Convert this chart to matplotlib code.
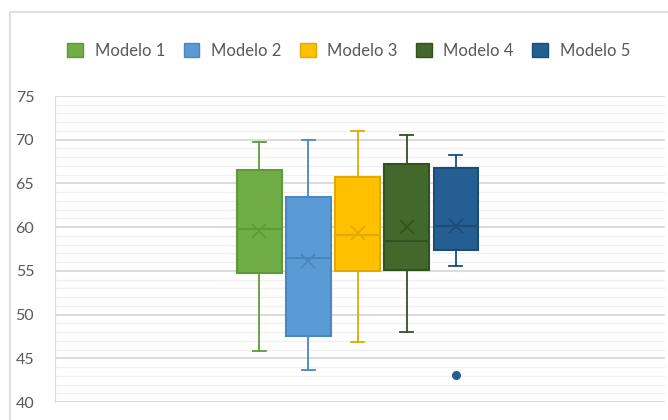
import matplotlib.pyplot as plt
from matplotlib.patches import Patch, Rectangle

# valores (resumen de cada caja)
modelos = ["Modelo 1", "Modelo 2", "Modelo 3", "Modelo 4", "Modelo 5"]
minimo = [45.8, 43.7, 46.9, 48.0, 55.6]
q1 = [54.7, 47.6, 55.0, 55.1, 57.4]
mediana = [59.8, 56.5, 59.1, 58.4, 60.1]
q3 = [66.5, 63.5, 65.7, 67.2, 66.8]
maximo = [69.7, 70.0, 71.0, 70.5, 68.2]
media = [59.6, 56.1, 59.3, 60.0, 60.1]
atipicos = [[], [], [], [], [43.1]]

colores = ["#70AD47", "#5B9BD5", "#FFC000", "#43682B", "#255E91"]
bordes = ["#5E9A3A", "#4A87C0", "#E0AA00", "#34521F", "#1C4C78"]

plt.rcParams['font.family'] = ['Lato', 'DejaVu Sans']

fig = plt.figure(figsize=(6.68, 4.2), dpi=100)
ax = fig.add_axes([55 / 668, 18 / 420, 610 / 668, 306 / 420])

# marco del grafico (recortado como en la imagen)
fig.patches.append(Rectangle((10 / 668, -0.1), 2, (420 - 12) / 420 + 0.1,
                             transform=fig.transFigure, fill=False,
                             edgecolor="#D9D9D9", linewidth=1.2, zorder=0))

stats = []
for i in range(len(modelos)):
    stats.append(dict(label=modelos[i], whislo=minimo[i], q1=q1[i], med=mediana[i],
                      q3=q3[i], whishi=maximo[i], mean=media[i], fliers=atipicos[i]))

pos = [0.496 + (i - 2) * 0.0805 for i in range(len(modelos))]
for i, s in enumerate(stats):
    ax.bxp([s], positions=[pos[i]], widths=0.073, capwidths=0.021,
           patch_artist=True, showmeans=True, manage_ticks=False,
           boxprops=dict(facecolor=colores[i], edgecolor=bordes[i], linewidth=1.5),
           medianprops=dict(color=bordes[i], linewidth=1.5),
           whiskerprops=dict(color=bordes[i], linewidth=1.3),
           capprops=dict(color=bordes[i], linewidth=1.3),
           meanprops=dict(marker="x", markeredgecolor=bordes[i], markersize=10,
                          markeredgewidth=1.3),
           flierprops=dict(marker="o", markerfacecolor=colores[i],
                           markeredgecolor=colores[i], markersize=5.5))

ax.set_xlim(0, 1)
ax.set_ylim(40, 75)
ax.set_yticks(range(40, 76, 5))
ax.set_yticks(range(40, 76, 1), minor=True)
ax.set_xticks([])
ax.grid(axis="y", which="major", color="#D9D9D9", linewidth=1.3, zorder=0)
ax.grid(axis="y", which="minor", color="#F0F0F0", linewidth=1.0, zorder=0)
ax.set_axisbelow(True)
ax.tick_params(axis="y", which="both", length=0, labelsize=11.5, labelcolor="#595959", pad=15)
for lado in ["top", "right", "bottom"]:
    ax.spines[lado].set_visible(False)
ax.spines["left"].set_color("#D9D9D9")

handles = [Patch(facecolor=colores[i], edgecolor=bordes[i], label=modelos[i])
           for i in range(len(modelos))]
fig.legend(handles=handles, loc="center", bbox_to_anchor=(0.522, 0.879), ncol=5,
           frameon=False, fontsize=12, labelcolor="#595959",
           handlelength=0.95, handleheight=0.95, handletextpad=0.7, columnspacing=1.1)

fig.savefig("out.png", dpi=100)
